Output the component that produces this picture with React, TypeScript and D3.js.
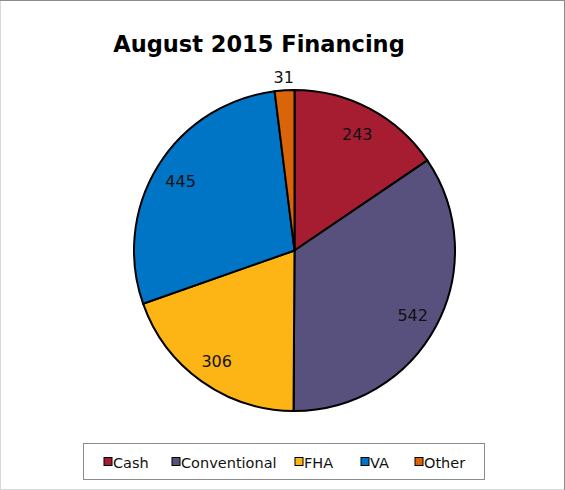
import React from "react";
import * as d3 from "d3";

const categories = ["Cash", "Conventional", "FHA", "VA", "Other"];
const values = [243, 542, 306, 445, 31];
const colors = ["#A61C31", "#58507D", "#FDB515", "#0075C6", "#D9640A"];
const title = "August 2015 Financing";

const W = 565;
const H = 490;
const cx = 294.5;
const cy = 250.5;
const R = 160.5;

export default function App() {
  const pie = d3.pie<number>().sort(null).value((d) => d);
  const arcs = pie(values);
  const arcGen = d3.arc<d3.PieArcDatum<number>>().innerRadius(0).outerRadius(R);
  const labelArc = d3.arc<d3.PieArcDatum<number>>().innerRadius(134).outerRadius(134);
  const outerLabelArc = d3.arc<d3.PieArcDatum<number>>().innerRadius(175).outerRadius(175);

  const legendX = [104, 172, 295, 361, 415];
  const legendY = 462;

  return (
    <svg
      width={W}
      height={H}
      style={{ position: "fixed", left: 0, top: 0, background: "#fff" }}
      fontFamily="'DejaVu Sans', sans-serif"
    >
      <rect x={0.5} y={0.5} width={W - 1} height={H - 1} fill="#fff" stroke="#d9d9d9" />
      <line x1={0} y1={0.5} x2={W} y2={0.5} stroke="#8c8c8c" />
      <line x1={W - 0.5} y1={0} x2={W - 0.5} y2={H} stroke="#8c8c8c" />
      <text
        x={259}
        y={52}
        textAnchor="middle"
        fontSize={22.5}
        fontWeight="bold"
        fill="#000"
        fontFamily="'DejaVu Sans', sans-serif"
      >
        {title}
      </text>
      <g transform={`translate(${cx},${cy})`}>
        {arcs.map((a, i) => (
          <path key={categories[i]} d={arcGen(a) || ""} fill={colors[i]} stroke="#000" strokeWidth={2} />
        ))}
        {arcs.map((a, i) => {
          const small = a.endAngle - a.startAngle < 0.3;
          const [lx, ly] = small ? outerLabelArc.centroid(a) : labelArc.centroid(a);
          return (
            <text
              key={"l" + i}
              x={lx}
              y={ly + 2}
              textAnchor="middle"
              dominantBaseline="central"
              fontSize={16}
              fill="#111"
            >
              {values[i]}
            </text>
          );
        })}
      </g>
      <rect x={83.5} y={443.5} width={401} height={36} fill="#fff" stroke="#8c8c8c" />
      {categories.map((c, i) => (
        <g key={"lg" + i}>
          <rect x={legendX[i]} y={legendY - 4.5} width={8} height={8} fill={colors[i]} stroke="#000" strokeWidth={1} />
          <text x={legendX[i] + 9} y={legendY + 1} dominantBaseline="central" fontSize={14.5} fill="#111">
            {c}
          </text>
        </g>
      ))}
    </svg>
  );
}
